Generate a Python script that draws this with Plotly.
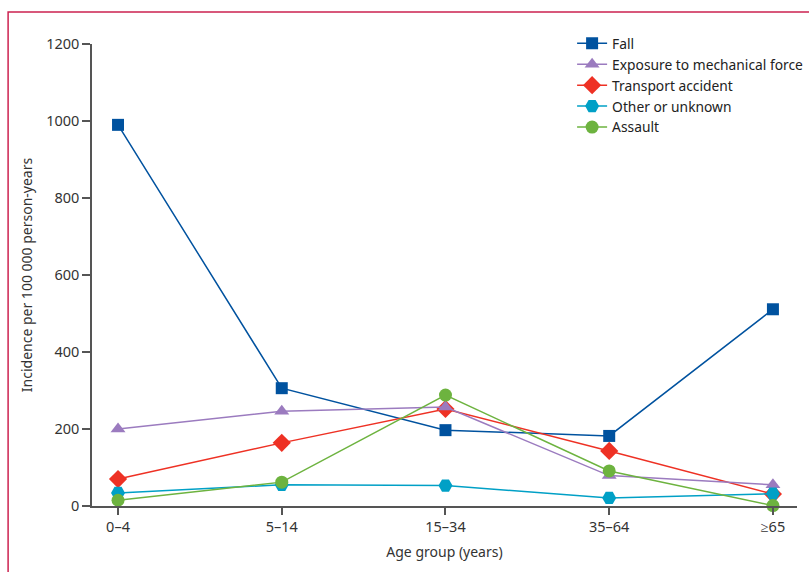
import plotly.graph_objects as go

age_groups = ["0–4", "5–14", "15–34", "35–64", "≥65"]

fall = [990, 306, 197, 182, 511]
exposure = [200, 246, 257, 79, 55]
transport = [70, 164, 252, 143, 31]
other = [34, 55, 53, 21, 32]
assault = [15, 62, 288, 91, 1]

series = [
    # name, values, colour, symbol, size, legend rank
    ("Fall", fall, "#00529F", "square", 12, 1),
    ("Transport accident", transport, "#EE3124", "diamond", 14, 3),
    ("Exposure to mechanical force", exposure, "#9B7BBF", "triangle-up", 13, 2),
    ("Other or unknown", other, "#00A0C6", "hexagon2", 14, 4),
    ("Assault", assault, "#6DB33F", "circle", 13, 5),
]

x_idx = list(range(len(age_groups)))

fig = go.Figure()
for name, vals, color, symbol, size, rank in series:
    fig.add_trace(go.Scatter(
        x=x_idx, y=vals, name=name, mode="lines+markers",
        line=dict(color=color, width=1.5),
        marker=dict(symbol=symbol, size=size, color=color, line=dict(width=0)),
        cliponaxis=False,
        legendrank=rank,
    ))

font_family = "Noto Sans"
axis_color = "#555555"

fig.update_layout(
    width=809, height=572,
    margin=dict(l=92, r=12, t=44, b=66, autoexpand=False),
    plot_bgcolor="white", paper_bgcolor="white",
    font=dict(family=font_family, size=14, color="#333333"),
    showlegend=True,
    legend=dict(
        x=0.681, y=1.035, xanchor="left", yanchor="top",
        bgcolor="rgba(0,0,0,0)", font=dict(size=13.8, color="#222222"),
        itemwidth=30, tracegroupgap=0,
    ),
    xaxis=dict(
        range=[-0.159, 4.147], tickmode="array", tickvals=x_idx, ticktext=age_groups,
        showgrid=False, zeroline=False, showline=True, linecolor=axis_color, linewidth=1.5,
        ticks="outside", ticklen=7, tickcolor=axis_color, tickwidth=1.5,
        tickfont=dict(size=14.5, color="#333333"),
        title=dict(text="Age group (years)", font=dict(size=14, color="#333333"), standoff=12),
    ),
    yaxis=dict(
        range=[0, 1200], tickvals=[0, 200, 400, 600, 800, 1000, 1200],
        showgrid=False, zeroline=False, showline=True, linecolor=axis_color, linewidth=1.5,
        ticks="outside", ticklen=8, tickcolor=axis_color, tickwidth=1.5,
        tickfont=dict(size=14.5, color="#333333"),
        title=dict(text="Incidence per 100 000 person-years", font=dict(size=14, color="#333333"), standoff=10),
    ),
)

# thin crimson frame along the left and top edges of the figure
fig.add_shape(
    type="path", xref="paper", yref="paper",
    path="M -0.119 -0.2 L -0.119 1.069 L 1.05 1.069",
    line=dict(color="#CC2250", width=1.5), layer="above",
)

fig.write_html("out.html")
